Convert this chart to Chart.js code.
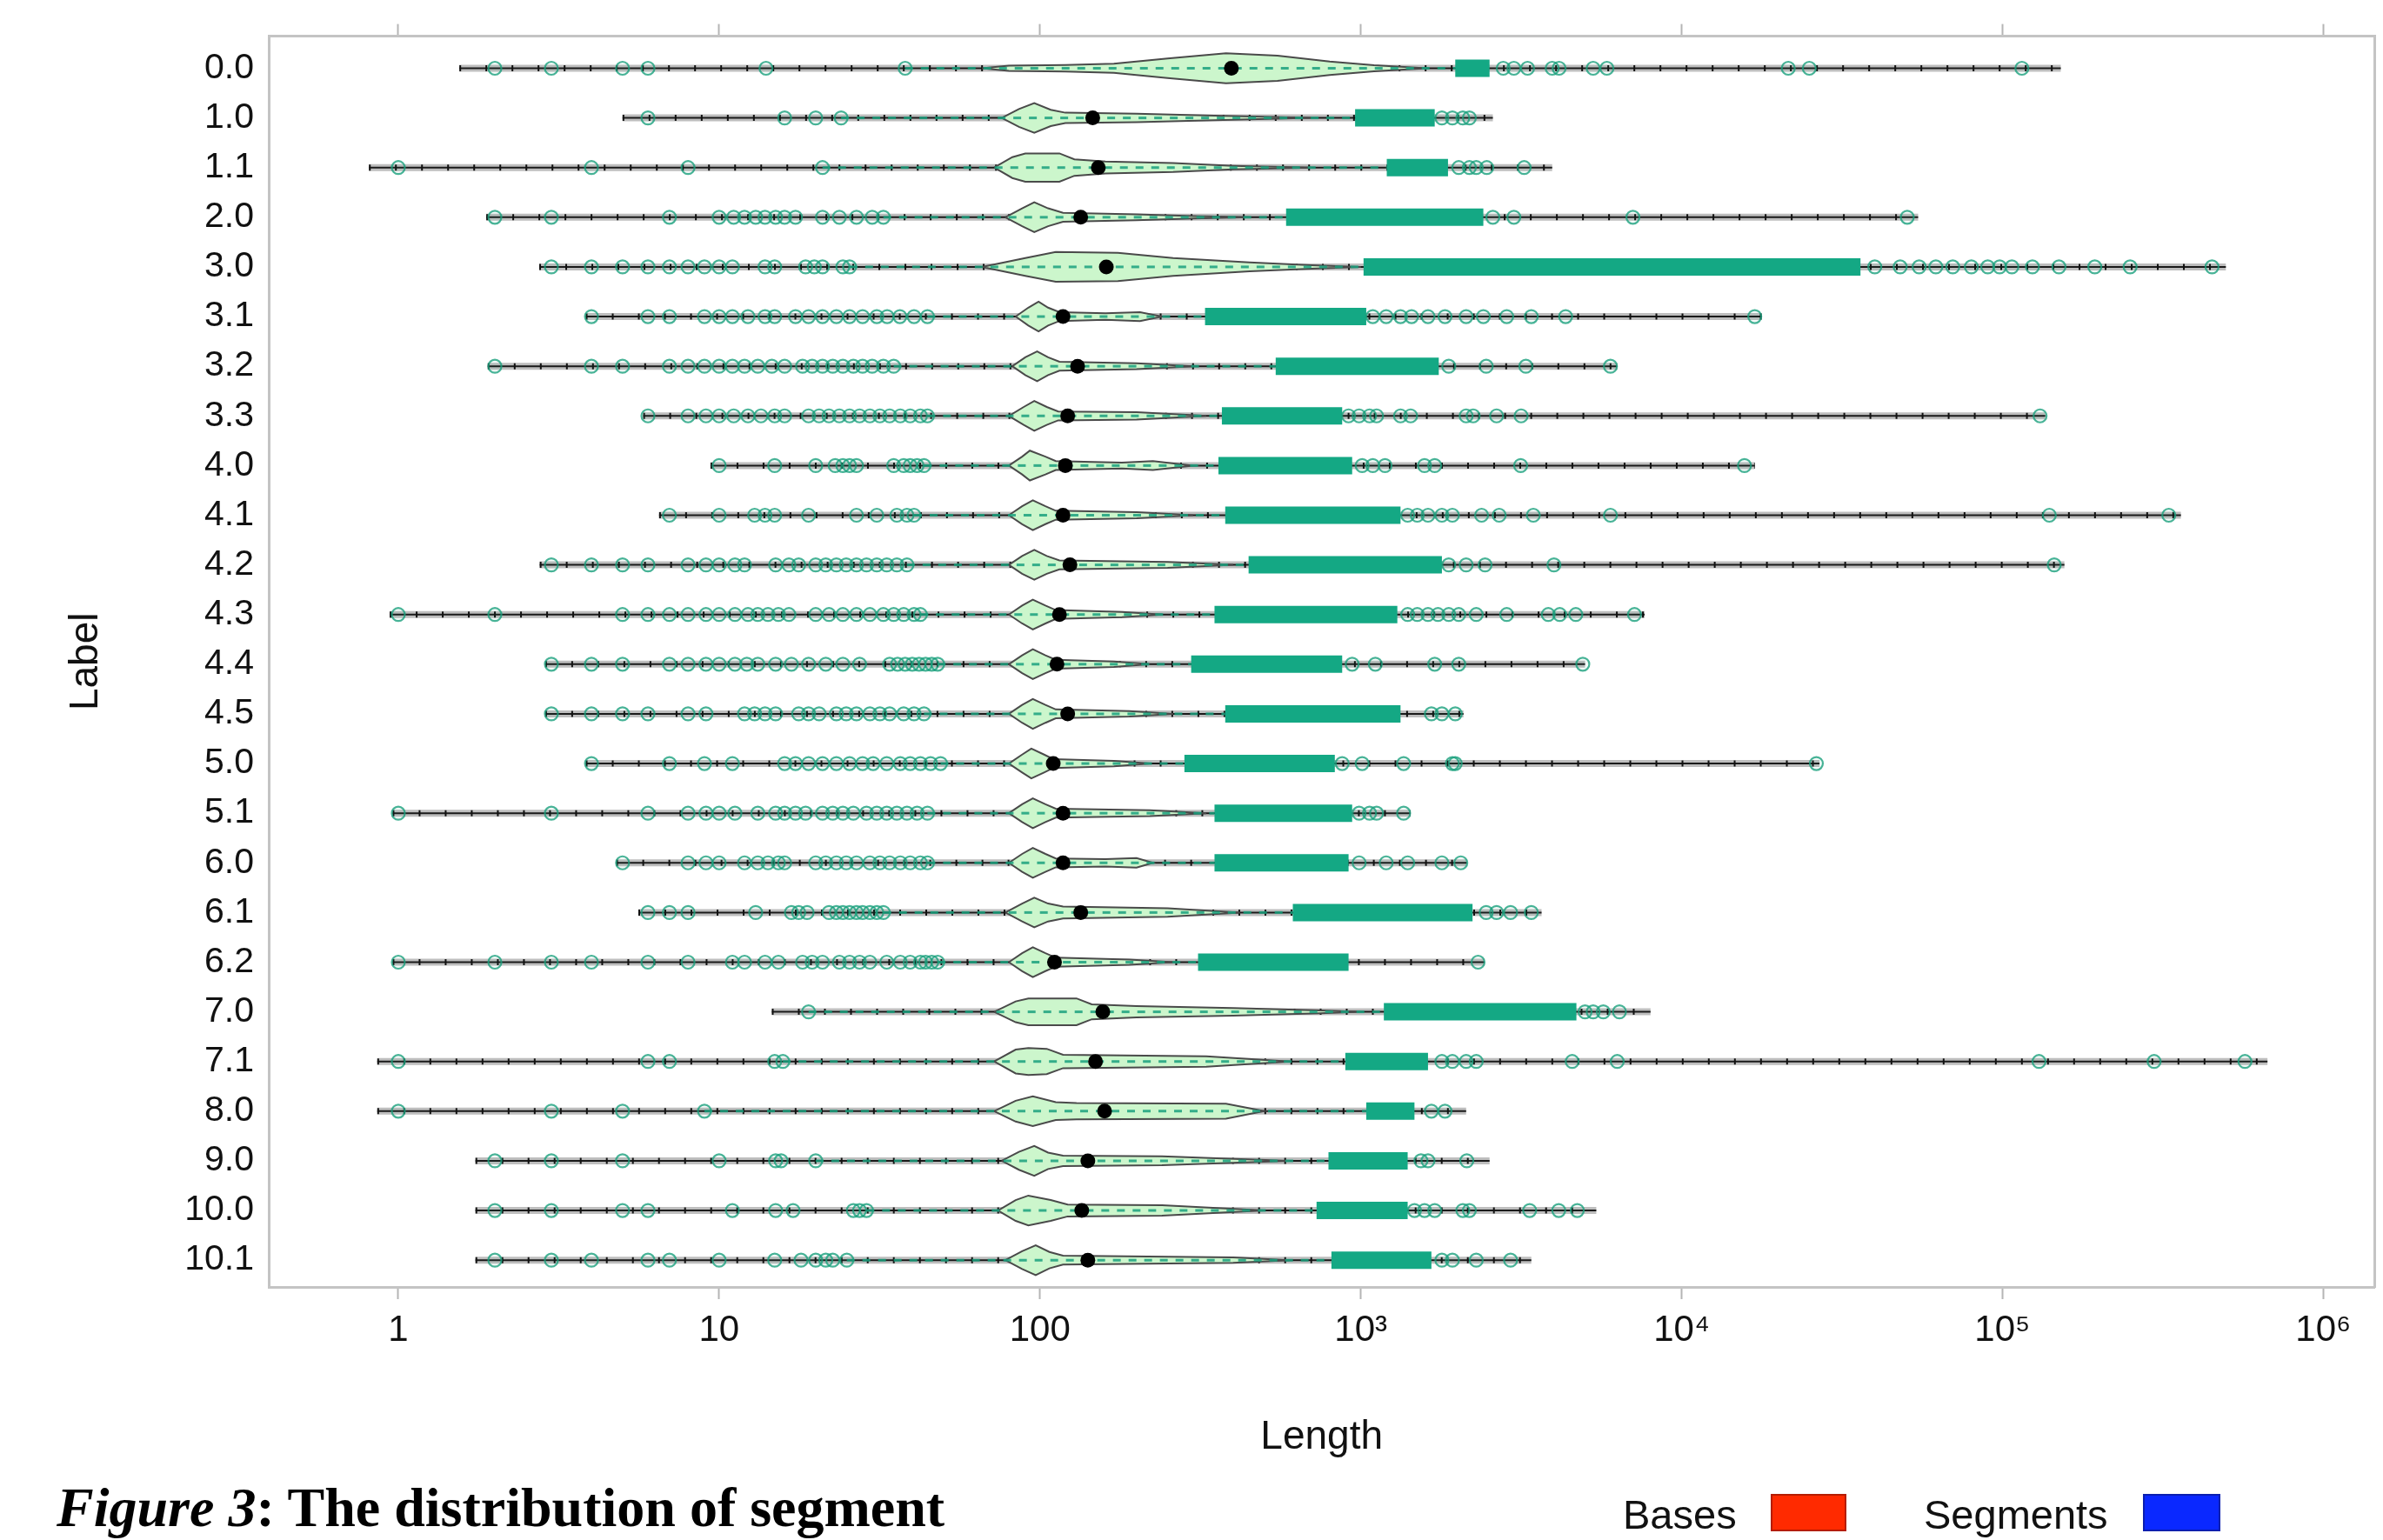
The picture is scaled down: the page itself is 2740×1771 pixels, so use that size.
<!DOCTYPE html>
<html>
<head>
<meta charset="utf-8">
<script src="https://cdn.jsdelivr.net/npm/chart.js@4.4.1/dist/chart.umd.min.js"></script>
<style>
  html, body { margin: 0; padding: 0; background: #fff; }
  #wrap { position: relative; width: 2740px; height: 1771px; }
  #caption { position: absolute; left: 65px; top: 1702px; font: bold 64px "Liberation Serif", "Times New Roman", serif; line-height: 1; color: #000; white-space: nowrap; }
  .leg { position: absolute; top: 1718px; font: 47px "Liberation Sans", Arial, sans-serif; line-height: 1; color: #111; white-space: nowrap; }
  .box { position: absolute; top: 1718px; height: 39px; }
</style>
</head>
<body>
<div id="wrap">
  <canvas id="chart"></canvas>
  <div id="caption"><i>Figure 3</i>: The distribution of segment</div>
  <div class="leg" style="left:1866px">Bases</div>
  <div class="box" style="left:2036px;width:83px;background:#ff2a00;border:2px solid #b51d00"></div>
  <div class="leg" style="left:2212px">Segments</div>
  <div class="box" style="left:2464px;width:85px;background:#0a28ff;border:2px solid #0a1fb0"></div>
</div>
<script>
// distribution of segment length per label, log x axis
const LABELS = ["0.0", "1.0", "1.1", "2.0", "3.0", "3.1", "3.2", "3.3", "4.0", "4.1", "4.2", "4.3", "4.4", "4.5",
  "5.0", "5.1", "6.0", "6.1", "6.2", "7.0", "7.1", "8.0", "9.0", "10.0", "10.1"];
const XTICKS = [1, 10, 100, 1000, 10000, 100000, 1000000];
const XTICK_LABELS = ["1", "10", "100", "10³", "10⁴", "10⁵", "10⁶"];

const RANGE_MIN = [1.55, 5.0, 0.81, 1.88, 2.75, 3.84, 1.9, 5.8, 9.4, 6.5, 2.76, 0.94, 2.87, 2.87, 3.84, 0.96, 4.78, 5.6, 0.96, 14.6, 0.86, 0.86, 1.74, 1.74, 1.74];
const RANGE_MAX = [152000, 2580, 3950, 54600, 497000, 17800, 6300, 136000, 16900, 360000, 156000, 7670, 5000, 2090, 26900, 1430, 2140, 3660, 2430, 8000, 670000, 2130, 2520, 5420, 3400];
const MEDIAN = [395, 146, 152, 134, 161, 118, 131, 122, 120, 118, 124, 115, 113, 122, 110, 118, 118, 134, 111, 157, 149, 159, 141, 135, 141];
const BAND_LO = [1970, 960, 1205, 585, 1020, 327, 543, 369, 360, 378, 447, 350, 296, 378, 282, 350, 350, 614, 311, 1180, 895, 1040, 793, 728, 810];
const BAND_HI = [2520, 1700, 1870, 2410, 36100, 1040, 1750, 875, 940, 1330, 1790, 1300, 875, 1330, 830, 940, 916, 2230, 916, 4700, 1620, 1470, 1400, 1400, 1660];

const OUTLIERS = [
  [2, 3, 5, 6, 14, 38, 2780, 3000, 3310, 3950, 4150, 5300, 5850, 21500, 25000, 115000],
  [6, 16, 20, 24, 1790, 1930, 2080, 2180],
  [1, 4, 8, 21, 2020, 2180, 2290, 2470, 3230],
  [2, 3, 7, 10, 11.1, 12, 13, 13.9, 15, 16, 17.3, 21, 23.7, 26.8, 30, 32.5, 2580, 3000, 7050, 50500],
  [3, 4, 5, 6, 7, 8, 9, 10, 11, 13.9, 14.9, 18.6, 19.8, 21, 24.3, 25.5, 40000, 48000, 55000, 62000, 70000, 80000, 90000, 98000, 107000, 124000, 150000, 194000, 250000, 450000],
  [4, 6, 7, 9, 10, 11, 12.3, 13.9, 14.9, 17.3, 19, 21, 23.2, 25.5, 28, 31, 33.4, 36.6, 40.5, 44.6, 1090, 1200, 1330, 1440, 1620, 1830, 2130, 2410, 2850, 3400, 4350, 16900],
  [2, 4, 5, 7, 8, 9, 10, 11, 12, 13.2, 14.6, 16, 18.2, 19.5, 21, 22.6, 24.3, 26.2, 28, 30, 32.5, 35, 1880, 2460, 3270, 6000],
  [6, 8, 9.1, 10, 11.1, 12.3, 13.5, 14.9, 16, 19, 20.5, 22, 23.7, 25.5, 27.4, 29.5, 31.7, 34, 36.7, 39.4, 42.4, 44.6, 916, 988, 1065, 1120, 1330, 1430, 2130, 2240, 2650, 3160, 131000],
  [10, 14.9, 20, 23, 24.3, 25.5, 26.8, 35, 37.6, 39.4, 41.4, 43.5, 1010, 1090, 1190, 1580, 1700, 3150, 15700],
  [7, 10, 12.9, 13.9, 14.9, 19, 26.8, 31, 35.8, 38.5, 40.5, 1400, 1500, 1620, 1790, 1930, 2380, 2700, 3450, 6000, 140000, 330000],
  [3, 4, 5, 6, 8, 9.1, 10, 11.2, 12, 15, 16.5, 17.7, 20, 21.5, 23.2, 24.9, 26.8, 28.8, 31, 33.3, 35.8, 38.5, 1880, 2130, 2440, 4000, 145000],
  [1, 2, 5, 6, 7, 8, 9.1, 10, 11.2, 12.3, 13.2, 14.2, 15.3, 16.5, 20, 22, 24.3, 26.8, 29.5, 32.5, 35, 37.6, 40.5, 42.4, 1400, 1500, 1620, 1740, 1880, 2020, 2290, 2850, 3840, 4170, 4680, 7130],
  [3, 4, 5, 7, 8, 9.1, 10, 11.2, 12.2, 13.2, 15, 16.8, 19, 21.5, 24.3, 27.4, 34, 36, 38, 40, 42, 44, 46, 48, 940, 1110, 1700, 2020, 4920],
  [3, 4, 5, 6, 8, 9.1, 12, 12.9, 13.9, 15, 17.7, 19, 20.5, 23.2, 24.9, 26.8, 29.5, 31.7, 34, 37.6, 40.5, 43.5, 1660, 1790, 1970],
  [4, 7, 9, 11, 16, 17.3, 19, 21, 23.2, 25.5, 28, 30.2, 33.3, 36.7, 39.4, 42.4, 45.6, 49, 875, 1010, 1360, 1930, 1970, 26300],
  [1, 3, 6, 8, 9.1, 10, 11.2, 13.2, 15, 16, 17.3, 18.6, 21, 22.6, 24.3, 26.2, 28.8, 31, 33.3, 35.8, 38.5, 41.4, 44.6, 988, 1065, 1120, 1360],
  [5, 8, 9.1, 10, 12, 13.2, 14.2, 15.3, 16, 20, 21.5, 23.2, 24.9, 26.8, 29.5, 31.7, 34, 36.7, 39.4, 42.4, 44.6, 988, 1200, 1400, 1790, 2050],
  [6, 7, 8, 13, 16.8, 17.7, 18.8, 22, 23.2, 24.3, 25.5, 26.8, 28, 29.5, 31, 32.5, 2460, 2650, 2930, 3400],
  [1, 2, 3, 4, 6, 8, 11, 12, 13.9, 15.3, 18.2, 19.5, 21, 23.7, 25.5, 27.4, 29.5, 33.3, 36.7, 39.4, 42.4, 44, 46, 48, 2320],
  [19, 5000, 5300, 5700, 6400],
  [1, 6, 7, 14.9, 15.8, 1790, 1930, 2130, 2290, 4560, 6300, 130000, 297000, 570000],
  [1, 3, 5, 9, 1660, 1830],
  [2, 3, 5, 10, 15, 15.6, 20, 1540, 1620, 2140],
  [2, 3, 5, 6, 11, 15, 17, 26.2, 27.4, 28.8, 1470, 1580, 1700, 2080, 2180, 3360, 4140, 4730],
  [2, 3, 4, 6, 7, 10, 14.9, 18, 20, 21.5, 22.6, 25, 1790, 1930, 2290, 2930]
];

// violin outline: [length, relative half width]
const VIOLINS = [
  [[66, 0], [80, 0.18], [120, 0.22], [170, 0.3], [250, 0.65], [380, 1.0], [550, 0.85], [800, 0.45], [1100, 0.2], [1600, 0]],
  [[76, 0], [86, 0.6], [96, 1.0], [108, 0.55], [120, 0.35], [200, 0.28], [350, 0.15], [700, 0]],
  [[72, 0], [82, 0.7], [90, 0.95], [115, 0.95], [128, 0.55], [160, 0.4], [260, 0.3], [400, 0.12], [700, 0]],
  [[78, 0], [88, 0.6], [96, 1.0], [106, 0.6], [118, 0.3], [200, 0.2], [300, 0.08], [450, 0]],
  [[66, 0], [90, 0.6], [112, 1.0], [175, 0.95], [260, 0.6], [450, 0.3], [700, 0.12], [1000, 0]],
  [[84, 0], [92, 0.6], [99, 1.0], [106, 0.6], [115, 0.3], [160, 0.22], [205, 0.3], [240, 0]],
  [[82, 0], [90, 0.6], [98, 1.0], [106, 0.6], [115, 0.3], [200, 0.2], [300, 0]],
  [[80, 0], [89, 0.6], [96, 1.0], [105, 0.6], [114, 0.3], [200, 0.25], [330, 0]],
  [[80, 0], [88, 0.6], [93, 1.0], [104, 0.6], [112, 0.3], [180, 0.2], [225, 0.3], [300, 0]],
  [[80, 0], [88, 0.6], [95, 1.0], [104, 0.6], [112, 0.3], [200, 0.2], [300, 0]],
  [[80, 0], [88, 0.6], [96, 1.0], [105, 0.6], [115, 0.3], [250, 0.2], [400, 0]],
  [[80, 0], [88, 0.6], [95, 1.0], [104, 0.6], [112, 0.3], [180, 0.18], [240, 0]],
  [[80, 0], [88, 0.6], [95, 1.0], [104, 0.6], [112, 0.3], [170, 0.18], [220, 0]],
  [[80, 0], [88, 0.6], [95, 1.0], [104, 0.6], [112, 0.3], [190, 0.18], [260, 0]],
  [[80, 0], [88, 0.6], [94, 1.0], [103, 0.6], [110, 0.3], [170, 0.18], [220, 0]],
  [[80, 0], [88, 0.6], [95, 1.0], [104, 0.6], [112, 0.3], [220, 0.2], [330, 0]],
  [[80, 0], [88, 0.6], [95, 1.0], [104, 0.6], [112, 0.3], [160, 0.25], [200, 0.32], [225, 0]],
  [[78, 0], [88, 0.6], [96, 1.0], [106, 0.6], [118, 0.4], [250, 0.28], [420, 0]],
  [[80, 0], [88, 0.6], [95, 1.0], [104, 0.6], [112, 0.3], [190, 0.18], [260, 0]],
  [[72, 0], [84, 0.7], [92, 0.9], [130, 0.9], [145, 0.5], [200, 0.38], [400, 0.25], [750, 0.1], [1000, 0]],
  [[72, 0], [84, 0.8], [92, 0.9], [105, 0.85], [118, 0.45], [330, 0.35], [600, 0]],
  [[72, 0], [84, 0.7], [95, 1.0], [112, 0.6], [130, 0.55], [380, 0.5], [500, 0]],
  [[76, 0], [86, 0.6], [96, 1.0], [106, 0.55], [118, 0.35], [240, 0.3], [600, 0]],
  [[74, 0], [84, 0.7], [92, 1.0], [108, 0.7], [122, 0.4], [240, 0.35], [500, 0]],
  [[78, 0], [88, 0.6], [97, 1.0], [107, 0.55], [118, 0.3], [400, 0.18], [600, 0]]
];

const VH = 0.3; // half height of a full-width violin, in row units
const TEAL = "#14a884";
const FONT = "'Liberation Sans', Arial, Helvetica, sans-serif";

const datasets = [];
LABELS.forEach((_, i) => {
  const span = [{ x: RANGE_MIN[i], y: i }, { x: RANGE_MAX[i], y: i }];
  datasets.push({ data: span, borderColor: "rgba(110,110,110,0.45)", borderWidth: 8, order: 8 });
  datasets.push({ data: span, borderColor: "#1a1a1a", borderWidth: 2, order: 7 });
  datasets.push({ data: span, borderColor: "#111", borderWidth: 7, borderDash: [2, 28], order: 6 });

  const v = VIOLINS[i];
  const shape = v.map(([x, w]) => ({ x, y: i - w * VH }))
    .concat(v.slice().reverse().map(([x, w]) => ({ x, y: i + w * VH })));
  shape.push(shape[0]);
  datasets.push({ data: shape, borderColor: "#4a4a4a", borderWidth: 2, backgroundColor: "#ccf6cc", fill: "shape", order: 5 });

  const left = OUTLIERS[i].filter((o) => o < v[0][0]);
  const wLo = left.length ? Math.max(...left) : RANGE_MIN[i];
  datasets.push({ data: [{ x: wLo, y: i }, { x: BAND_LO[i], y: i }], borderColor: "rgba(25,160,125,0.85)", borderWidth: 3, borderDash: [9, 9], order: 4 });
  datasets.push({ data: [{ x: BAND_LO[i], y: i }, { x: BAND_HI[i], y: i }], borderColor: TEAL, borderWidth: 20, order: 3 });
});

datasets.push({
  data: OUTLIERS.flatMap((row, i) => row.map((x) => ({ x, y: i }))),
  showLine: false, pointRadius: 7.5, pointBorderWidth: 2.2,
  pointBorderColor: "rgba(26,160,125,0.8)", pointBackgroundColor: "rgba(26,160,125,0.05)", order: 2,
});
datasets.push({
  data: MEDIAN.map((x, i) => ({ x, y: i })),
  showLine: false, pointRadius: 8.5, pointBorderWidth: 0, pointBackgroundColor: "#000", order: 1,
});

const setXTicks = (scale) => { scale.ticks = XTICKS.map((value) => ({ value })); };
const frame = { display: true, color: "#c4c4c4", width: 3 };

new Chart(document.getElementById("chart"), {
  type: "line",
  data: { datasets },
  options: {
    responsive: true, maintainAspectRatio: false, animation: false, events: [],
    layout: { padding: 0 },
    elements: { line: { tension: 0, fill: false, borderCapStyle: "butt" }, point: { radius: 0, hoverRadius: 0 } },
    plugins: { legend: { display: false }, tooltip: { enabled: false } },
    scales: {
      x: {
        type: "logarithmic", position: "bottom", min: 0.3946, max: 1445000,
        afterBuildTicks: setXTicks,
        afterFit: (s) => { s.height = 291; },
        grid: { drawOnChartArea: false, drawTicks: true, tickLength: 14, tickColor: "#b5b5b5", tickWidth: 2 },
        border: frame,
        ticks: { autoSkip: false, maxRotation: 0, padding: 11, color: "#111", font: { family: FONT, size: 42 }, callback: (v, idx) => XTICK_LABELS[idx] },
        title: { display: true, text: "Length", color: "#111", font: { family: FONT, size: 46 }, padding: { top: 0, bottom: 90 } },
      },
      y: {
        type: "linear", position: "left", reverse: true, min: -0.646, max: 24.54,
        afterBuildTicks: (s) => { s.ticks = LABELS.map((_, i) => ({ value: i })); },
        afterFit: (s) => { s.width = 309; },
        grid: { display: false, drawTicks: false },
        border: frame,
        ticks: { padding: 17, color: "#111", font: { family: FONT, size: 41 }, callback: (v) => LABELS[v] ?? "" },
        title: { display: true, text: "Label", color: "#111", font: { family: FONT, size: 46 }, padding: { top: 72, bottom: 0 } },
      },
      x2: {
        type: "logarithmic", position: "top", min: 0.3946, max: 1445000,
        afterBuildTicks: setXTicks,
        afterFit: (s) => { s.height = 38; },
        grid: { drawOnChartArea: false, drawTicks: true, tickLength: 14, tickColor: "#b5b5b5", tickWidth: 2 },
        border: frame,
        ticks: { display: false },
      },
      y2: {
        type: "linear", position: "right",
        afterFit: (s) => { s.width = 9; },
        grid: { display: false, drawTicks: false },
        border: frame,
        ticks: { display: false },
      },
    },
  },
});
</script>
</body>
</html>
